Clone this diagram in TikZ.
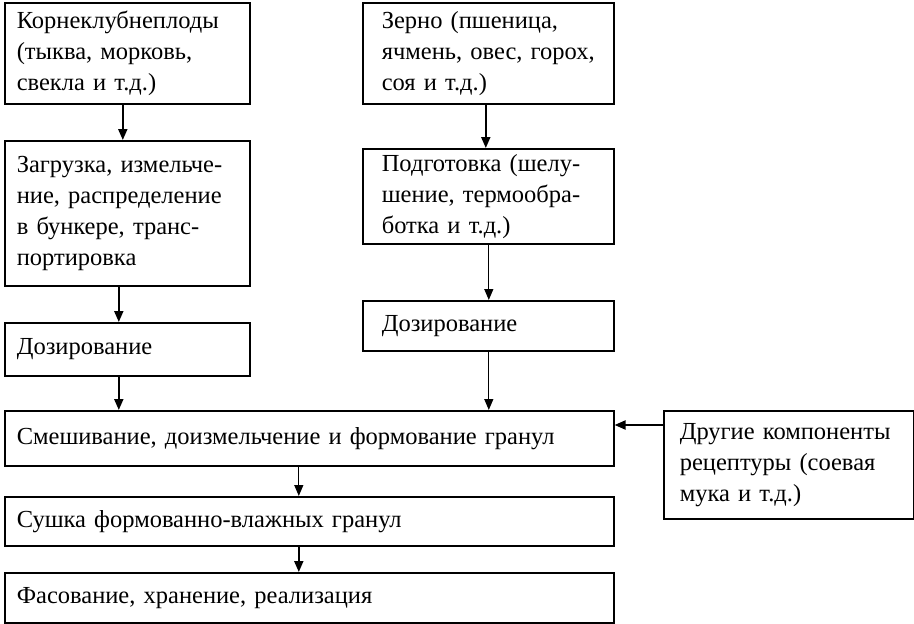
\documentclass[tikz,border=0pt]{standalone}
\usepackage{fontspec}
\setmainfont{Liberation Serif}
\usetikzlibrary{arrows.meta}
\begin{document}
\begin{tikzpicture}[x=1pt,y=-1pt,
  box/.style={draw, line width=1.6pt, rectangle, align=left, anchor=north west,
    inner xsep=12pt, inner ysep=0pt, font=\fontsize{24.5}{31}\selectfont},
  rbox/.style={box, inner xsep=19pt},
  arr/.style={line width=2pt, -{Triangle[length=11pt,width=9pt]}},
  tarr/.style={line width=1.3pt, -{Triangle[length=11pt,width=9pt]}}]
\useasboundingbox (0,0) rectangle (914,624);
\node[box, minimum width=245pt, minimum height=101pt, text width=221pt] (b1) at (4,2)
  {Корнеклубнеплоды\\(тыква, морковь,\\свекла и т.д.)};
\node[rbox, minimum width=251pt, minimum height=101pt, text width=213pt] (b2) at (362,2)
  {Зерно (пшеница,\\ячмень, овес, горох,\\соя и т.д.)};
\node[box, minimum width=245pt, minimum height=145pt, text width=221pt] (b3) at (4,140)
  {Загрузка, измельче-\\ние, распределение\\в бункере, транс-\\портировка};
\node[rbox, minimum width=251pt, minimum height=95pt, text width=213pt] (b4) at (362,148)
  {Подготовка (шелу-\\шение, термообра-\\ботка и т.д.)};
\node[box, minimum width=245pt, minimum height=53pt, text width=221pt] (b5) at (4,322)
  {Дозирование};
\node[rbox, minimum width=251pt, minimum height=50pt, text width=213pt] (b6) at (362,300)
  {Дозирование};
\node[box, minimum width=609pt, minimum height=55pt, text width=585pt] (b7) at (4,410)
  {Смешивание, доизмельчение и формование гранул};
\node[box, inner xsep=16pt, minimum width=250pt, minimum height=108pt, text width=218pt] (b8) at (663,410)
  {Другие компоненты\\рецептуры (соевая\\мука и т.д.)};
\node[box, minimum width=609pt, minimum height=49pt, text width=585pt] (b9) at (4,496)
  {Сушка формованно-влажных гранул};
\node[box, minimum width=609pt, minimum height=50pt, text width=585pt] (b10) at (4,572)
  {Фасование, хранение, реализация};
\draw[arr] ([xshift=-4.5pt]b1.south) -- ([xshift=-4.5pt]b3.north);
\draw[arr] ([xshift=-8.5pt]b3.south) -- ([xshift=-8.5pt]b5.north);
\draw[arr] ([xshift=-8.5pt]b5.south) -- ([xshift=-8.5pt]b5.south |- b7.north);
\draw[arr] ([xshift=-2.5pt]b2.south) -- ([xshift=-2.5pt]b4.north);
\draw[tarr] ([xshift=0.5pt]b4.south) -- ([xshift=0.5pt]b6.north);
\draw[tarr] ([xshift=0.5pt]b6.south) -- ([xshift=0.5pt]b6.south |- b7.north);
\draw[arr] (b8.west |- 0,425) -- (b7.east |- 0,425);
\draw[tarr] ([xshift=-10.5pt]b7.south) -- ([xshift=-10.5pt]b9.north);
\draw[arr] ([xshift=-10.5pt]b9.south) -- ([xshift=-10.5pt]b10.north);
\end{tikzpicture}
\end{document}
